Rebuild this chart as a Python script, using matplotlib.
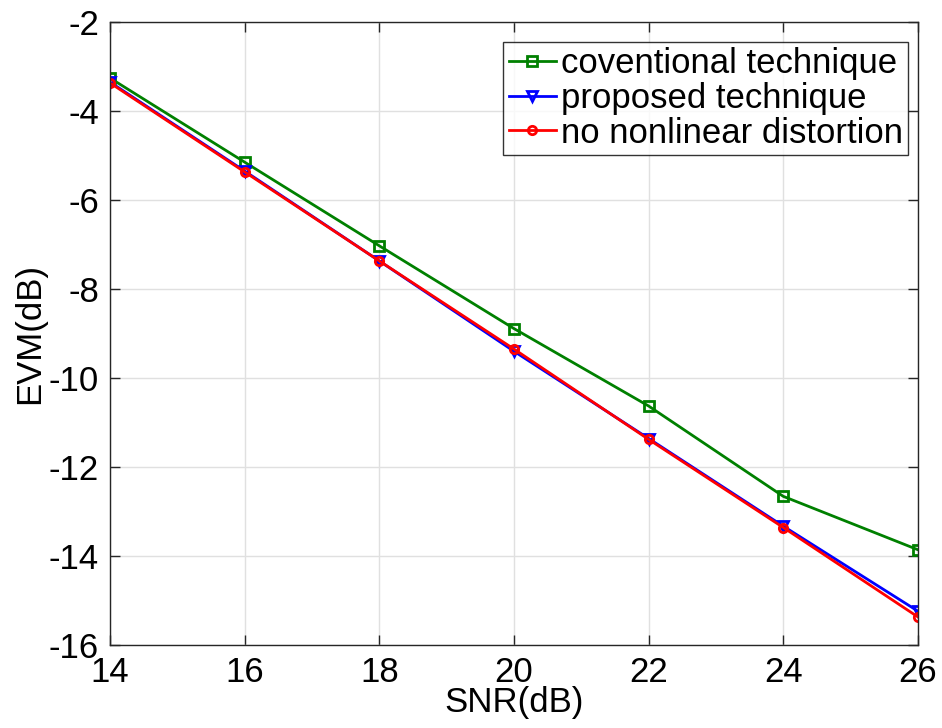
import matplotlib
matplotlib.use("Agg")
import matplotlib.pyplot as plt

# EVM versus SNR for the three receiver cases
snr = [14, 16, 18, 20, 22, 24, 26]
evm_conventional = [-3.26, -5.15, -7.03, -8.89, -10.63, -12.66, -13.86]
evm_proposed = [-3.35, -5.35, -7.37, -9.40, -11.36, -13.33, -15.24]
evm_ideal = [-3.37, -5.37, -7.37, -9.35, -11.38, -13.36, -15.37]

plt.rcParams['font.family'] = ['Liberation Sans', 'DejaVu Sans']
plt.rcParams['axes.unicode_minus'] = False

fig = plt.figure(figsize=(9.42, 7.28), dpi=100)
ax = fig.add_axes([0.1168, 0.114, 0.8577, 0.8558])

ax.plot(snr, evm_conventional, color='#008000', lw=2, marker='s', ms=7,
        mfc='none', mew=2, label='coventional technique')
ax.plot(snr, evm_proposed, color='#0000ff', lw=2, marker='v', ms=7,
        mfc='none', mew=2, label='proposed technique')
ax.plot(snr, evm_ideal, color='#ff0000', lw=2, marker='o', ms=6,
        mfc='none', mew=2, label='no nonlinear distortion')

ax.set_xlim(14, 26)
ax.set_ylim(-16, -2)
ax.set_xticks(range(14, 27, 2))
ax.set_yticks(range(-16, -1, 2))
ax.grid(True, color='#e0e0e0', lw=1)
ax.set_axisbelow(True)
ax.tick_params(direction='in', length=7, width=1, labelsize=25, colors='#262626',
               top=True, right=True, pad=8)
for tl in ax.get_xticklabels() + ax.get_yticklabels():
    tl.set_color('black')
for s in ax.spines.values():
    s.set_color('#262626')
    s.set_linewidth(1)

ax.set_xlabel('SNR(dB)', fontsize=25, labelpad=-2)
ax.set_ylabel('EVM(dB)', fontsize=25, labelpad=2)

leg = ax.legend(loc='upper right', bbox_to_anchor=(0.9876, 0.968),
                fontsize=25, frameon=True, fancybox=False,
                edgecolor='black', borderpad=0.15, labelspacing=0.05,
                handlelength=1.35, handletextpad=0.15, borderaxespad=0.0)
leg.get_frame().set_linewidth(1)

fig.savefig('out.png', dpi=100)
